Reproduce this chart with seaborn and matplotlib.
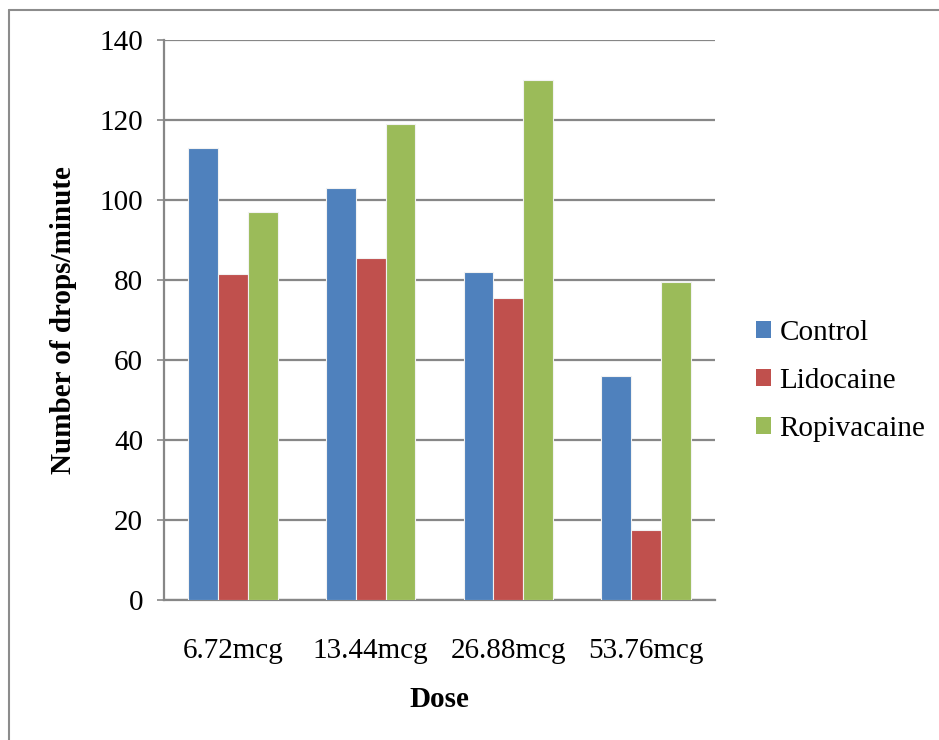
import matplotlib
matplotlib.use("Agg")
import matplotlib.pyplot as plt
import seaborn as sns
import pandas as pd
from matplotlib.lines import Line2D
from matplotlib.patches import Patch

doses = ["6.72mcg", "13.44mcg", "26.88mcg", "53.76mcg"]
control = [113, 103, 82, 56]
lidocaine = [81.5, 85.5, 75.5, 17.5]
ropivacaine = [97, 119, 130, 79.5]
groups = ["Control", "Lidocaine", "Ropivacaine"]
colors = ["#4F81BD", "#C0504D", "#9BBB59"]

df = pd.DataFrame({
    "Dose": doses * 3,
    "Group": [g for g in groups for _ in doses],
    "Value": control + lidocaine + ropivacaine,
})

sns.set_theme(style="white")
plt.rcParams["font.family"] = ["Liberation Serif", "DejaVu Serif"]
plt.rcParams["text.color"] = "black"
plt.rcParams["axes.labelcolor"] = "black"
plt.rcParams["xtick.labelcolor"] = "black"
plt.rcParams["ytick.labelcolor"] = "black"

fig = plt.figure(figsize=(9.39, 7.40), dpi=100)
ax = fig.add_axes([164 / 939, 1 - 600 / 740, (715 - 164) / 939, 560 / 740])

sns.barplot(data=df, x="Dose", y="Value", hue="Group", order=doses,
            hue_order=groups, palette=colors, saturation=1, width=0.65,
            edgecolor="#F2F2F2", linewidth=0.8, ax=ax, legend=False, zorder=3)

ax.set_ylim(0, 140)
ax.set_yticks(range(0, 141, 20))
ax.set_xlim(-0.5, 3.5)
ax.yaxis.grid(True, color="#878787", linewidth=1.6, zorder=0)
ax.set_axisbelow(True)
for s in ["top", "right"]:
    ax.spines[s].set_visible(False)
for s in ["left", "bottom"]:
    ax.spines[s].set_color("#878787")
    ax.spines[s].set_linewidth(1.6)

ax.tick_params(axis="y", which="major", left=True, length=5, width=1.2,
               color="#878787", labelsize=21, pad=10, labelcolor="black")
ax.tick_params(axis="x", bottom=False, labelsize=21, pad=21, labelcolor="black")

ax.set_xlabel("Dose", fontsize=21, fontweight="bold", labelpad=16, color="black")
ax.set_ylabel("Number of drops/minute", fontsize=21, fontweight="bold",
              labelpad=16, color="black")

handles = [Patch(facecolor=c, edgecolor="none") for c in colors]
fig.legend(handles, groups, loc="center left", bbox_to_anchor=(756 / 939, 1 - 381 / 740),
           frameon=False, fontsize=21, handlelength=0.5, handleheight=0.5,
           handletextpad=0.3, labelspacing=0.76, borderaxespad=0, borderpad=0,
           labelcolor="black")

# page frame around the chart
fig.add_artist(Line2D([9 / 939, 9 / 939], [0, 1 - 10 / 740], color="#8C8C8C",
                      linewidth=1.5, transform=fig.transFigure))
fig.add_artist(Line2D([9 / 939, 1], [1 - 10 / 740, 1 - 10 / 740], color="#8C8C8C",
                      linewidth=1.5, transform=fig.transFigure))

fig.savefig("out.png", dpi=100)
